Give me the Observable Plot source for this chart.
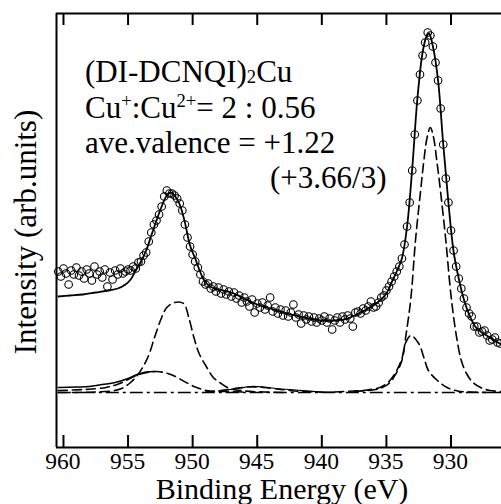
<!DOCTYPE html>
<html><head><meta charset="utf-8">
<script src="https://cdn.jsdelivr.net/npm/d3@7"></script>
<script src="https://cdn.jsdelivr.net/npm/@observablehq/plot@0.6"></script>
<style>
html,body{margin:0;padding:0;background:#fff;}
#chart{position:relative;width:501px;height:504px;overflow:hidden;}
#chart svg{position:absolute;left:0;top:0;}
.lbl{position:absolute;line-height:1;white-space:nowrap;color:#000;}
.sm{font-size:0.6em;position:relative;}
</style></head><body><div id="chart"></div>
<script>
const SERIF = '"Liberation Serif", Tinos, "Times New Roman", monospace';
(function () {
  const ctx = document.createElement("canvas").getContext("2d");
  for (const s of [23, 30, 31]) { ctx.font = `${s}px "Liberation Serif", monospace`; ctx.measureText("Binding Energy (eV) 960 Intensity"); }
  document.fonts.check('31px "Liberation Serif"');
})();

// ---- measured spectrum (open circles) ----
const energyA = [960.4,960.2,960.0,959.8,959.6,959.4,959.2,959.0,958.8,958.6,958.4,958.2,958.0,957.8,957.6,957.4,957.2,957.0,956.8,956.6,956.4,956.2,956.0,955.8,955.6,955.4,955.2,955.0];
const countsA = [121,116,124,119,108,122,118,125,117,121,114,123,119,112,126,118,121,115,123,106,120,113,122,118,124,119,121,123];
const energyB = [954.8,954.6,954.4,954.2,954.0,953.8,953.6,953.4,953.2,953.0,952.8,952.6,952.4,952.2,952.0,951.8,951.6,951.4,951.2,951.0,950.8,950.6,950.4,950.2,950.0,949.8,949.6,949.4,949.2,949.0];
const countsB = [122,126,124,130,131,137,140,151,160,168,172,178,186,196,202,199,199,197,194,189,182,168,155,146,138,131,125,118,111,108];
const energyC = [948.8,948.6,948.4,948.2,948.0,947.8,947.6,947.4,947.2,947.0,946.8,946.6,946.4,946.2,946.0,945.8,945.6,945.4,945.2,945.0,944.8,944.6,944.4,944.2,944.0,943.8,943.6,943.4,943.2,943.0,942.8,942.6,942.4,942.2,942.0,941.8,941.6,941.4,941.2,941.0,940.8,940.6,940.4,940.2,940.0,939.8,939.6,939.4,939.2,939.0,938.8,938.6,938.4,938.2,938.0,937.8,937.6,937.4,937.2,937.0,936.8,936.6,936.4,936.2,936.0];
const countsC = [109,104,106,101,105,99,103,98,101,96,100,94,97,90,95,91,86,93,80,89,85,90,83,87,95,81,85,79,83,77,82,76,80,88,75,78,69,77,73,76,71,75,70,74,72,76,70,74,63,72,75,70,76,73,77,74,66,80,81,79,84,82,86,91,85];
const energyD = [935.8,935.6,935.4,935.2,935.0,934.8,934.6,934.4,934.2,934.0,933.8,933.6,933.4,933.2,933.0,932.8,932.6,932.4,932.2,932.0,931.8,931.6,931.4,931.2,931.0,930.8,930.6,930.4,930.2,930.0,929.8,929.6,929.4,929.2,929.0,928.8,928.6,928.4,928.2,928.0,927.8,927.6,927.4,927.2,927.0,926.8,926.6,926.4,926.2];
const countsD = [86,90,95,97,102,106,111,116,121,126,134,148,166,190,222,258,292,318,337,350,360,357,346,330,312,284,248,214,190,162,142,126,114,104,94,85,79,76,66,66,60,61,62,57,52,53,55,50,49];

// ---- total fit (solid) ----
const fitEnergy = [960.4,959.5,958.5,957.5,956.5,955.8,955.2,954.8,954.4,954.0,953.6,953.2,952.8,952.4,952.0,951.7,951.4,951.0,950.6,950.2,949.8,949.4,949.0,948.5,948.0,947.0,946.0,945.0,944.0,943.0,942.0,941.0,940.0,939.0,938.0,937.0,936.0,935.5,935.0,934.6,934.2,933.8,933.4,933.0,932.6,932.2,931.9,931.7,931.4,931.0,930.6,930.2,929.8,929.4,929.0,928.5,928.0,927.0,926.1];
const fitValue  = [96,97,98,100,102,104,108,113,122,131,142,157,172,186,197,200,197,188,170,147,134,120,110,105,103,100,94,88,84,80,77,74,72,72,74,80,87,92,99,110,121,134,166,224,294,340,356,359,346,312,248,190,141,114,93,75,64,55,48];

// ---- components ----
const cu1MainEnergy = [937.5,936.5,935.5,934.8,934.3,933.8,933.5,933.1,932.75,932.35,932.1,931.85,931.6,931.35,931.1,930.8,930.4,930.0,929.6,929.2,928.8,928.3,927.7,927.0,926.1];
const cu1MainValue  = [1,2,4,9,18,32,56,95,152,202,232,255,265,255,232,200,152,97,58,32,19,10,5,2,1];
const cu2MainEnergy = [939,937.5,936.5,935.5,934.8,934.2,933.8,933.5,933.1,932.5,932.1,931.75,931.05,930.3,929.5,928.5,927];
const cu2MainValue  = [0.5,1.5,2.5,5,11,22,34,50,57,49,35,22,12,5,1.5,0.5,0];
const cu1HalfEnergy = [960.4,959,957.5,956.3,955.5,954.9,954.35,953.7,953.35,952.95,952.4,952.0,951.4,950.7,950.3,949.9,949.5,948.9,948.4,947.9,947.15,946,944.5,943];
const cu1HalfValue  = [0,0,0.5,1.5,4,9,16,29,39,55,75,85,90,89,75,55,39,25,15,10,4,1.5,0.5,0];
const cu2HalfEnergy = [960.4,958.45,956.7,955.65,954.35,953.5,952.8,952.2,951.5,950.5,949.7,948.9,947.5,946];
const cu2HalfValue  = [2,3,5,9,17,20,21,20,17,10,5,2,1,0.5];
const cu2SumEnergy  = [960.4,959,958,957,956,955,954.3,953.6,953.0];
const cu2SumValue   = [5,5.5,6,8,10,14,18,20.5,21];
const satEnergy     = [949,947.5,946.5,945.5,944.5,943.5,942.5,941.5,940];
const satValue      = [0.5,2.5,4.5,5.5,5,3.5,2,1,0.3];
const sat2Energy    = [948,946.5,945.5,944.5,943.5,942,940.5,939];
const sat2Value     = [1.5,4,6,5.5,4,2.5,1,0.3];

const xTicks = [960,955,950,945,940,935,930];
const xDomain = [960.54, 926.09];
const yDomain = [-55, 379];
const tickLen = 12;

const zip = (xs, ys) => xs.map((x, i) => ({x, y: ys[i]}));
const measured = zip([...energyA, ...energyB, ...energyC, ...energyD], [...countsA, ...countsB, ...countsC, ...countsD]);

const dash = "9,5";
const plot = Plot.plot({
  width: 501, height: 504,
  marginLeft: 56, marginRight: 0, marginTop: 13, marginBottom: 57,
  x: {domain: xDomain, axis: null},
  y: {domain: yDomain, axis: null},
  style: {background: "white", color: "black"},
  marks: [
    Plot.ruleY([0], {x1: energyA[0], x2: xDomain[1], stroke: "black", strokeWidth: 1.6, strokeDasharray: "13,4,3,4"}),
    Plot.line(zip(cu2SumEnergy, cu2SumValue), {x: "x", y: "y", stroke: "black", strokeWidth: 1.5, curve: "catmull-rom"}),
    Plot.line(zip(sat2Energy, sat2Value), {x: "x", y: "y", stroke: "black", strokeWidth: 1.2, curve: "catmull-rom"}),
    Plot.line(zip(satEnergy, satValue), {x: "x", y: "y", stroke: "black", strokeWidth: 1.4, strokeDasharray: dash, curve: "catmull-rom"}),
    Plot.line(zip(cu2HalfEnergy, cu2HalfValue), {x: "x", y: "y", stroke: "black", strokeWidth: 1.6, strokeDasharray: dash, curve: "catmull-rom"}),
    Plot.line(zip(cu1HalfEnergy, cu1HalfValue), {x: "x", y: "y", stroke: "black", strokeWidth: 1.6, strokeDasharray: dash, curve: "catmull-rom"}),
    Plot.line(zip(cu2MainEnergy, cu2MainValue), {x: "x", y: "y", stroke: "black", strokeWidth: 1.6, strokeDasharray: dash, curve: "catmull-rom"}),
    Plot.line(zip(cu1MainEnergy, cu1MainValue), {x: "x", y: "y", stroke: "black", strokeWidth: 1.6, strokeDasharray: dash, curve: "catmull-rom"}),
    Plot.line(zip(fitEnergy, fitValue), {x: "x", y: "y", stroke: "black", strokeWidth: 1.8, curve: "catmull-rom"}),
    Plot.dot(measured, {x: "x", y: "y", r: 3.8, stroke: "black", strokeWidth: 1.1, fill: "none"}),
    Plot.ruleX([xDomain[0]], {stroke: "black", strokeWidth: 2}),
    Plot.ruleY([yDomain[0], yDomain[1]], {stroke: "black", strokeWidth: 2}),
    Plot.ruleX(xTicks, {x: d => d, y1: yDomain[0], y2: yDomain[0] + tickLen, stroke: "black", strokeWidth: 2}),
    Plot.ruleX(xTicks, {x: d => d, y1: yDomain[1] - tickLen, y2: yDomain[1], stroke: "black", strokeWidth: 2})
  ]
});
const chart = document.getElementById("chart");
chart.appendChild(plot);

const ASC = 0.8375;
function label(html, x, baseline, size, anchor = "start") {
  const d = document.createElement("div");
  d.className = "lbl";
  d.style.fontFamily = SERIF;
  d.style.fontSize = size + "px";
  d.style.left = x + "px";
  d.style.top = (baseline - ASC * size) + "px";
  if (anchor === "middle") d.style.transform = "translateX(-50%)";
  d.innerHTML = html;
  chart.appendChild(d);
  return d;
}
const xs = plot.scale("x");
const ys = plot.scale("y");
const tickBaseline = ys.apply(yDomain[0]) + 23;
for (const t of xTicks) label(String(t), xs.apply(t), tickBaseline, 23.5, "middle");

label("Binding Energy (eV)", 282, 499, 30, "middle");
const yl = document.createElement("div");
yl.className = "lbl";
yl.style.fontFamily = SERIF;
yl.style.fontSize = "31px";
yl.style.left = "0px"; yl.style.top = "0px";
yl.style.transformOrigin = "0 0";
yl.style.transform = `translate(36px, 232px) rotate(-90deg) translate(-50%, -${ASC}em)`;
yl.textContent = "Intensity (arb.units)";
chart.appendChild(yl);

const fs = 31;
label('(DI-DCNQI)<span class="sm" style="top:1px">2</span>Cu', 85, 82, fs);
label('Cu<span class="sm" style="top:-11px">+</span>:Cu<span class="sm" style="top:-11px">2+</span>= 2 : 0.56', 85, 118, fs);
label('ave.valence = +1.22', 85, 153, fs);
label('(+3.66/3)', 270, 188, fs);
</script></body></html>
